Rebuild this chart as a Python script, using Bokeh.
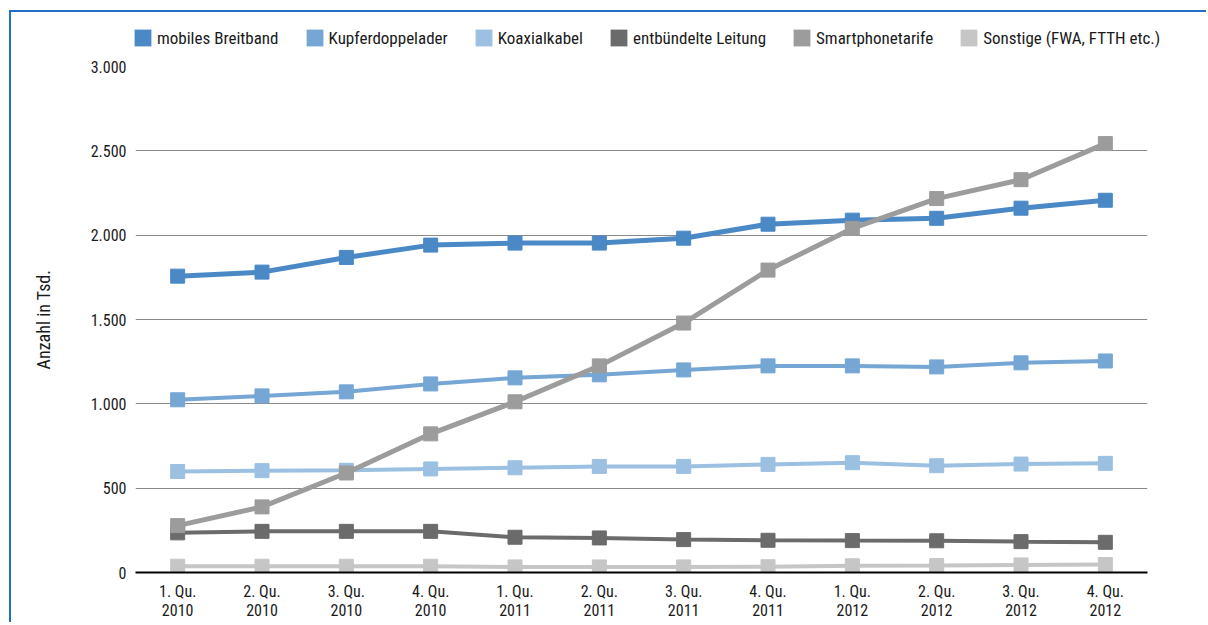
from bokeh.plotting import figure
from bokeh.layouts import column
from bokeh.models import Range1d, FactorRange, Legend, LegendItem, FixedTicker, ColumnDataSource
from bokeh.embed import file_html
from bokeh.resources import INLINE

quarters = ["1. Qu.\n2010", "2. Qu.\n2010", "3. Qu.\n2010", "4. Qu.\n2010",
            "1. Qu.\n2011", "2. Qu.\n2011", "3. Qu.\n2011", "4. Qu.\n2011",
            "1. Qu.\n2012", "2. Qu.\n2012", "3. Qu.\n2012", "4. Qu.\n2012"]

mobiles_breitband = [1757, 1781, 1868, 1941, 1953, 1953, 1982, 2065, 2089, 2100, 2160, 2207]
kupferdoppelader = [1024, 1047, 1071, 1118, 1154, 1172, 1201, 1225, 1225, 1219, 1243, 1254]
koaxialkabel = [599, 604, 606, 614, 621, 629, 629, 641, 651, 633, 643, 647]
entbuendelte_leitung = [235, 244, 244, 244, 209, 205, 195, 191, 189, 188, 183, 179]
smartphonetarife = [278, 389, 590, 822, 1012, 1225, 1479, 1793, 2040, 2217, 2329, 2543]
sonstige = [37, 37, 37, 37, 33, 33, 33, 34, 40, 41, 45, 47]

series_names = ["mobiles Breitband", "Kupferdoppelader", "Koaxialkabel",
                "entbündelte Leitung", "Smartphonetarife", "Sonstige (FWA, FTTH etc.)"]
series_values = [mobiles_breitband, kupferdoppelader, koaxialkabel,
                 entbuendelte_leitung, smartphonetarife, sonstige]
colors = ["#4a89c5", "#75a6d4", "#9bc0e1", "#6b6b6b", "#9c9c9c", "#c6c6c6"]
widths = [5, 4, 4, 4, 5, 4]

y_ticks = [0, 500, 1000, 1500, 2000, 2500, 3000]
y_tick_labels = ["0", "500", "1.000", "1.500", "2.000", "2.500", "3.000"]

FONT = "Liberation Sans Narrow, Roboto Condensed, Arial Narrow, sans-serif"

# ---------- main chart ----------
p = figure(x_range=FactorRange(*quarters, range_padding=0), y_range=Range1d(0, 3000),
           width=1195, height=566, output_backend="svg", toolbar_location=None,
           min_border_left=124, min_border_right=59, min_border_top=10, min_border_bottom=49)
p.outline_line_color = None
p.background_fill_color = "white"
p.border_fill_color = "white"

p.xgrid.grid_line_color = None
p.ygrid.grid_line_color = "#8a8a8a"
p.ygrid.grid_line_width = 1
p.ygrid.ticker = FixedTicker(ticks=y_ticks)

p.yaxis.ticker = FixedTicker(ticks=y_ticks)
p.yaxis.major_label_overrides = {t: l for t, l in zip(y_ticks, y_tick_labels)}
p.yaxis.axis_line_color = None
p.yaxis.major_tick_line_color = None
p.yaxis.minor_tick_line_color = None
p.yaxis.major_tick_out = 0
p.yaxis.major_label_standoff = 9
p.yaxis.major_label_text_font = FONT
p.yaxis.major_label_text_font_size = "16px"
p.yaxis.major_label_text_color = "#1a1a1a"
p.yaxis.axis_label = "Anzahl in Tsd."
p.yaxis.axis_label_text_font = FONT
p.yaxis.axis_label_text_font_size = "18px"
p.yaxis.axis_label_text_font_style = "normal"
p.yaxis.axis_label_text_color = "#1a1a1a"
p.yaxis.axis_label_standoff = 34

p.xaxis.axis_line_color = "black"
p.xaxis.axis_line_width = 2
p.xaxis.major_tick_line_color = None
p.xaxis.minor_tick_line_color = None
p.xaxis.major_tick_out = 0
p.xaxis.major_label_standoff = 9
p.xaxis.major_label_text_font = FONT
p.xaxis.major_label_text_font_size = "16px"
p.xaxis.major_label_text_color = "#1a1a1a"
p.xaxis.major_label_text_line_height = 1.0

for name, vals, col, w in zip(series_names, series_values, colors, widths):
    src = ColumnDataSource(dict(x=quarters, y=vals))
    p.line("x", "y", source=src, line_color=col, line_width=w)
    p.scatter("x", "y", source=src, marker="square", size=14, fill_color=col, line_color=col)

# ---------- legend strip ----------
lf = figure(width=1195, height=44, output_backend="svg", toolbar_location=None,
            x_axis_location=None, y_axis_location=None,
            min_border_left=0, min_border_right=0, min_border_top=0, min_border_bottom=0)
lf.frame_align = False
lf.outline_line_color = None
lf.grid.visible = False

items = []
for name, col in zip(series_names, colors):
    # zero-sized proxy glyph: only used to draw the legend swatch
    proxy = lf.rect(x=[0], y=[0], width=0, height=0, fill_color=col, line_color=None)
    items.append(LegendItem(label=name, renderers=[proxy]))

legend = Legend(items=items, orientation="horizontal", location=(121, 8),
                glyph_width=21, glyph_height=21, label_standoff=4, spacing=25,
                padding=0, margin=0, border_line_color=None, background_fill_alpha=0,
                label_text_font=FONT, label_text_font_size="17px", label_text_color="#1a1a1a")
lf.add_layout(legend, "center")

layout = column(lf, p, spacing=0,
                styles={"border-top": "2px solid #1f6fc5", "border-left": "2px solid #1f6fc5",
                        "margin-left": "9px", "margin-top": "10px"})

open("out.html", "w").write(file_html(layout, INLINE))
